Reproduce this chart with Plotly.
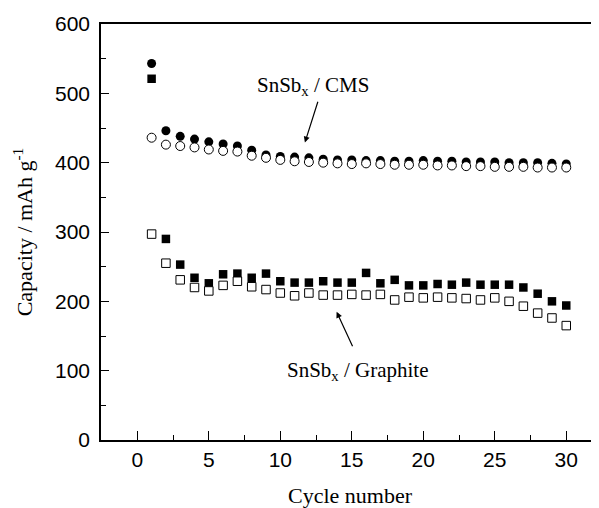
import plotly.graph_objects as go

cycles = list(range(1, 31))

cms_filled = [543, 446, 438, 434, 430, 427, 424, 418, 411, 409, 408, 407, 405, 404, 404,
              403, 403, 402, 402, 403, 402, 402, 401, 401, 401, 400, 400, 400, 399, 398]
cms_open = [436, 426, 424, 422, 419, 417, 416, 410, 407, 404, 402, 401, 400, 399, 398,
            399, 398, 397, 397, 397, 396, 396, 395, 395, 394, 394, 394, 393, 393, 393]

gr_filled = [521, 290, 253, 234, 226, 239, 240, 234, 240, 229, 227, 227, 229, 227, 227,
             241, 226, 231, 223, 223, 225, 224, 227, 224, 224, 224, 220, 211, 200, 194]
gr_open = [297, 255, 231, 220, 215, 223, 229, 221, 217, 212, 208, 212, 209, 209, 210,
           209, 210, 202, 206, 205, 206, 205, 204, 202, 205, 200, 193, 183, 176, 165]

x_ticks = [0, 5, 10, 15, 20, 25, 30]
y_ticks = [0, 100, 200, 300, 400, 500, 600]

fig = go.Figure()

fig.add_trace(go.Scatter(x=cycles, y=cms_filled, mode="markers",
                         marker=dict(symbol="circle", size=9, color="black",
                                     line=dict(width=0))))
fig.add_trace(go.Scatter(x=cycles, y=gr_filled, mode="markers",
                         marker=dict(symbol="square", size=8.5, color="black",
                                     line=dict(width=0))))
fig.add_trace(go.Scatter(x=cycles, y=cms_open, mode="markers",
                         marker=dict(symbol="circle", size=9, color="white",
                                     line=dict(width=1, color="black"))))
fig.add_trace(go.Scatter(x=cycles, y=gr_open, mode="markers",
                         marker=dict(symbol="square", size=8.5, color="white",
                                     line=dict(width=1, color="black"))))

tick_font = dict(family="Liberation Sans, Arial", size=21, color="black")
title_font = dict(family="Liberation Serif, Times New Roman", size=22, color="black")

fig.update_xaxes(range=[-2.54, 32.29], tickvals=x_ticks, ticktext=[str(v) for v in x_ticks],
                 ticks="inside", ticklen=9, tickwidth=1.3, tickcolor="black",
                 minor=dict(dtick=2.5, tick0=0, ticks="inside", ticklen=5, tickwidth=1.3,
                            tickcolor="black"),
                 showline=True, linecolor="black", linewidth=1.6, mirror=True,
                 showgrid=False, zeroline=False, tickfont=tick_font,
                 title=dict(text="Cycle number", font=title_font, standoff=18))
fig.update_yaxes(range=[0, 600], tickvals=y_ticks, ticktext=[str(v) for v in y_ticks],
                 ticks="inside", ticklen=8, tickwidth=1.3, tickcolor="black",
                 minor=dict(dtick=50, tick0=0, ticks="inside", ticklen=5, tickwidth=1.3,
                            tickcolor="black"),
                 ticklabelstandoff=5,
                 showline=True, linecolor="black", linewidth=1.6, mirror=False,
                 showgrid=False, zeroline=False, tickfont=tick_font,
                 title=dict(text="Capacity / mAh g<sup>-1</sup>", font=title_font, standoff=16))

ann_font = dict(family="Liberation Serif, Times New Roman", size=21, color="black")
fig.add_annotation(x=12.26, y=510, text="SnSb<sub>x</sub> / CMS", showarrow=False,
                   font=ann_font, xref="x", yref="y")
fig.add_annotation(x=11.72, y=429, ax=12.66, ay=490, axref="x", ayref="y",
                   xref="x", yref="y", text="", showarrow=True,
                   arrowhead=2, arrowsize=1, arrowwidth=1.2, arrowcolor="black")
fig.add_annotation(x=15.44, y=99, text="SnSb<sub>x</sub> / Graphite", showarrow=False,
                   font=ann_font, xref="x", yref="y")
fig.add_annotation(x=13.94, y=185, ax=15.1, ay=133, axref="x", ayref="y",
                   xref="x", yref="y", text="", showarrow=True,
                   arrowhead=2, arrowsize=1, arrowwidth=1.2, arrowcolor="black")

# page body adds an 8px offset; compensate via size/margins
fig.update_layout(width=591, height=500, showlegend=False,
                  margin=dict(l=93, r=0, t=16, b=68),
                  plot_bgcolor="white", paper_bgcolor="white")

fig.write_html("out.html")
